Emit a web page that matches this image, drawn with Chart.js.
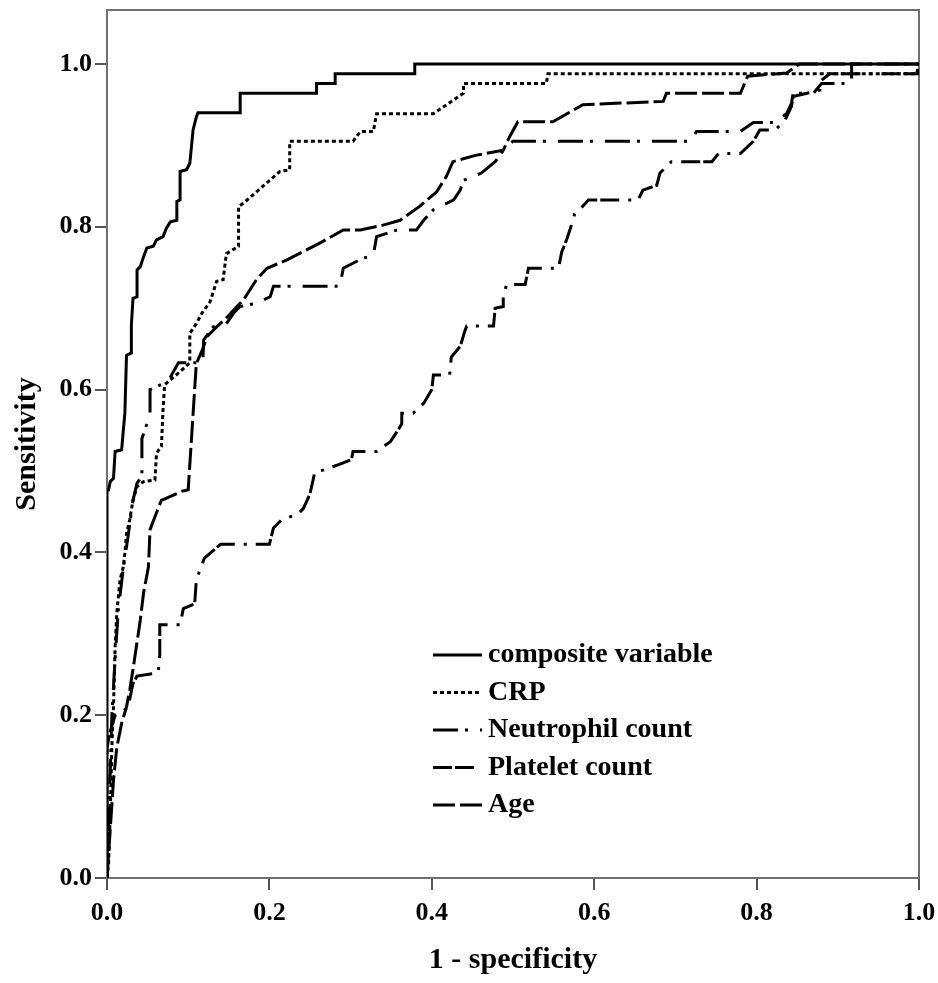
<!DOCTYPE html>
<html>
<head>
<meta charset="utf-8">
<script src="https://cdn.jsdelivr.net/npm/chart.js@4"></script>
<style>
html,body{margin:0;padding:0;background:#fff;}
#wrap{width:938px;height:983px;position:relative;}
</style>
</head>
<body>
<div id="wrap"><canvas id="c" width="938" height="983"></canvas></div>
<script>
// ---- data (x = 1 - specificity, y = sensitivity) ----
const seriesNames = ["composite variable", "CRP", "Neutrophil count", "Platelet count", "Age"];

const compositeX = [0,0,0.002,0.004,0.008,0.010,0.018,0.022,0.024,0.030,0.030,0.032,0.037,0.037,0.041,0.045,0.049,0.057,0.061,0.069,0.073,0.078,0.086,0.086,0.090,0.090,0.098,0.102,0.106,0.110,0.112,0.164,0.164,0.258,0.258,0.281,0.281,0.379,0.379,1.0];
const compositeY = [0,0.477,0.477,0.487,0.491,0.524,0.526,0.571,0.642,0.645,0.679,0.712,0.714,0.747,0.751,0.763,0.774,0.776,0.784,0.788,0.798,0.806,0.808,0.831,0.833,0.868,0.870,0.878,0.919,0.935,0.940,0.940,0.964,0.964,0.976,0.976,0.988,0.988,1.0,1.0];

const crpX = [0,0.002,0.004,0.006,0.008,0.010,0.012,0.016,0.020,0.022,0.024,0.028,0.032,0.037,0.045,0.059,0.061,0.067,0.069,0.071,0.090,0.102,0.102,0.110,0.117,0.127,0.135,0.143,0.147,0.162,0.162,0.168,0.213,0.225,0.225,0.303,0.312,0.328,0.332,0.402,0.439,0.439,0.541,0.543,0.997,1.0];
const crpY = [0,0.018,0.079,0.161,0.210,0.284,0.325,0.366,0.382,0.399,0.423,0.440,0.464,0.481,0.487,0.489,0.522,0.530,0.575,0.606,0.622,0.633,0.669,0.681,0.694,0.708,0.733,0.735,0.767,0.776,0.825,0.829,0.868,0.870,0.905,0.905,0.917,0.917,0.939,0.939,0.964,0.976,0.976,0.988,0.988,1.0];

const neutX = [0,0.002,0.004,0.006,0.010,0.014,0.020,0.026,0.032,0.037,0.043,0.043,0.053,0.053,0.075,0.088,0.118,0.119,0.131,0.147,0.156,0.164,0.184,0.201,0.205,0.287,0.289,0.291,0.314,0.328,0.332,0.357,0.381,0.390,0.402,0.427,0.435,0.439,0.461,0.478,0.492,0.500,0.718,0.726,0.780,0.796,0.821,0.837,0.843,0.845,0.870,0.880,0.917,0.917,1.0];
const neutY = [0,0.060,0.130,0.200,0.270,0.330,0.380,0.420,0.464,0.485,0.494,0.540,0.569,0.600,0.610,0.633,0.633,0.661,0.677,0.681,0.694,0.702,0.706,0.714,0.727,0.727,0.739,0.749,0.761,0.765,0.788,0.796,0.796,0.808,0.821,0.833,0.845,0.857,0.866,0.880,0.899,0.905,0.905,0.917,0.917,0.928,0.928,0.939,0.952,0.964,0.964,0.976,0.976,1.0,1.0];

const plateletX = [0,0,0.004,0.010,0.020,0.026,0.032,0.037,0.063,0.065,0.065,0.090,0.094,0.108,0.110,0.115,0.120,0.140,0.200,0.205,0.215,0.235,0.242,0.250,0.256,0.266,0.283,0.301,0.303,0.332,0.349,0.357,0.363,0.363,0.377,0.390,0.400,0.402,0.422,0.424,0.435,0.441,0.443,0.476,0.478,0.488,0.488,0.492,0.515,0.519,0.556,0.560,0.566,0.572,0.576,0.582,0.593,0.654,0.660,0.677,0.681,0.695,0.745,0.753,0.780,0.796,0.804,0.823,0.835,0.843,0.845,0.862,0.878,0.880,0.890,1.0,1.0];
const plateletY = [0,0.160,0.180,0.200,0.205,0.210,0.239,0.248,0.252,0.274,0.311,0.311,0.331,0.337,0.366,0.380,0.393,0.410,0.410,0.430,0.440,0.447,0.454,0.472,0.499,0.501,0.507,0.514,0.524,0.524,0.536,0.548,0.558,0.571,0.571,0.583,0.600,0.618,0.618,0.640,0.653,0.673,0.678,0.678,0.700,0.702,0.714,0.729,0.729,0.749,0.749,0.769,0.784,0.802,0.816,0.821,0.833,0.833,0.845,0.851,0.866,0.880,0.880,0.890,0.890,0.905,0.919,0.919,0.931,0.948,0.960,0.964,0.968,0.980,0.988,0.988,1.0];

const ageX = [0,0.004,0.008,0.012,0.018,0.024,0.028,0.032,0.041,0.045,0.051,0.053,0.063,0.067,0.092,0.100,0.110,0.118,0.123,0.135,0.147,0.160,0.168,0.184,0.197,0.221,0.262,0.291,0.312,0.340,0.361,0.385,0.406,0.418,0.426,0.455,0.488,0.496,0.506,0.549,0.586,0.685,0.689,0.780,0.789,0.837,0.853,1.0];
const ageY = [0,0.060,0.120,0.160,0.190,0.210,0.231,0.256,0.317,0.350,0.382,0.428,0.454,0.464,0.475,0.477,0.632,0.650,0.665,0.677,0.688,0.702,0.710,0.735,0.749,0.759,0.780,0.796,0.796,0.802,0.808,0.825,0.843,0.862,0.880,0.888,0.894,0.911,0.929,0.929,0.950,0.954,0.964,0.964,0.985,0.989,1.0,1.0];

const xTicks = [0, 0.2, 0.4, 0.6, 0.8, 1.0];
const yTicks = [0, 0.2, 0.4, 0.6, 0.8, 1.0];
const xTitle = "1 - specificity";
const yTitle = "Sensitivity";

// ---- styles ----
const dashes = [[], [4, 3], [25, 7, 3, 12], [19, 3, 19, 9, 3, 9], [22, 5]];
const widths = [3, 3, 3, 3, 3];
const FONT = "'Liberation Serif', 'DejaVu Serif', serif";

function pts(xs, ys) { return xs.map((x, i) => ({x: x, y: ys[i]})); }
const allX = [compositeX, crpX, neutX, plateletX, ageX];
const allY = [compositeY, crpY, neutY, plateletY, ageY];

const datasets = seriesNames.map((name, i) => ({
  label: name,
  data: pts(allX[i], allY[i]),
  showLine: true,
  fill: false,
  borderColor: '#000',
  backgroundColor: '#000',
  borderWidth: widths[i],
  borderDash: dashes[i],
  borderCapStyle: 'butt',
  borderJoinStyle: 'miter',
  pointRadius: 0,
  pointHoverRadius: 0,
  tension: 0
}));

const framePlugin = {
  id: 'frame',
  beforeDatasetsDraw(chart) {
    const {ctx, chartArea: a} = chart;
    ctx.save();
    ctx.strokeStyle = '#707070';
    ctx.lineWidth = 2;
    ctx.strokeRect(a.left, a.top, a.right - a.left, a.bottom - a.top);
    ctx.restore();
  }
};

const legendPlugin = {
  id: 'innerLegend',
  afterDatasetsDraw(chart) {
    const {ctx, chartArea: a} = chart;
    const x0 = a.left + 326, x1 = a.left + 375, tx = a.left + 381;
    const y0 = 655, dy = 37.5;
    ctx.save();
    chart.data.datasets.forEach((ds, i) => {
      const y = y0 + i * dy;
      ctx.beginPath();
      ctx.setLineDash(ds.borderDash || []);
      ctx.lineWidth = ds.borderWidth;
      ctx.strokeStyle = '#000';
      ctx.moveTo(x0, y);
      ctx.lineTo(x1, y);
      ctx.stroke();
      ctx.setLineDash([]);
      ctx.fillStyle = '#000';
      ctx.font = "bold 28px " + FONT;
      ctx.textBaseline = 'middle';
      ctx.textAlign = 'left';
      ctx.fillText(ds.label, tx, y);
    });
    ctx.restore();
  }
};

new Chart(document.getElementById('c'), {
  type: 'scatter',
  data: { datasets: datasets },
  plugins: [framePlugin, legendPlugin],
  options: {
    responsive: false,
    animation: false,
    events: [],
    layout: { padding: { top: 10, right: 19, left: 0, bottom: 0 } },
    plugins: { legend: { display: false }, tooltip: { enabled: false }, title: { display: false } },
    scales: {
      x: {
        type: 'linear', min: 0, max: 1,
        afterBuildTicks: s => { s.ticks = xTicks.map(v => ({value: v})); },
        afterFit: s => { s.height = 105; s.paddingLeft = 0; s.paddingRight = 0; },
        ticks: { callback: v => Number(v).toFixed(1), color: '#000', padding: 8, maxRotation: 0,
                 font: { family: FONT, size: 26, weight: 'bold' } },
        grid: { display: true, drawOnChartArea: false, drawTicks: true, tickLength: 12, color: '#555', lineWidth: 2 },
        border: { display: false },
        title: { display: true, text: xTitle, color: '#000', padding: { top: 0, bottom: 5 },
                 font: { family: FONT, size: 30, weight: 'bold' } }
      },
      y: {
        type: 'linear', min: 0, max: 1.0663,
        afterBuildTicks: s => { s.ticks = yTicks.map(v => ({value: v})); },
        afterFit: s => { s.width = 107; s.paddingTop = 0; s.paddingBottom = 0; },
        ticks: { callback: v => Number(v).toFixed(1), color: '#000', padding: 3,
                 font: { family: FONT, size: 26, weight: 'bold' } },
        grid: { display: true, drawOnChartArea: false, drawTicks: true, tickLength: 12, color: '#555', lineWidth: 2 },
        border: { display: false },
        title: { display: true, text: yTitle, color: '#000', padding: { top: 9, bottom: 0 },
                 font: { family: FONT, size: 30, weight: 'bold' } }
      }
    }
  }
});
</script>
</body>
</html>
